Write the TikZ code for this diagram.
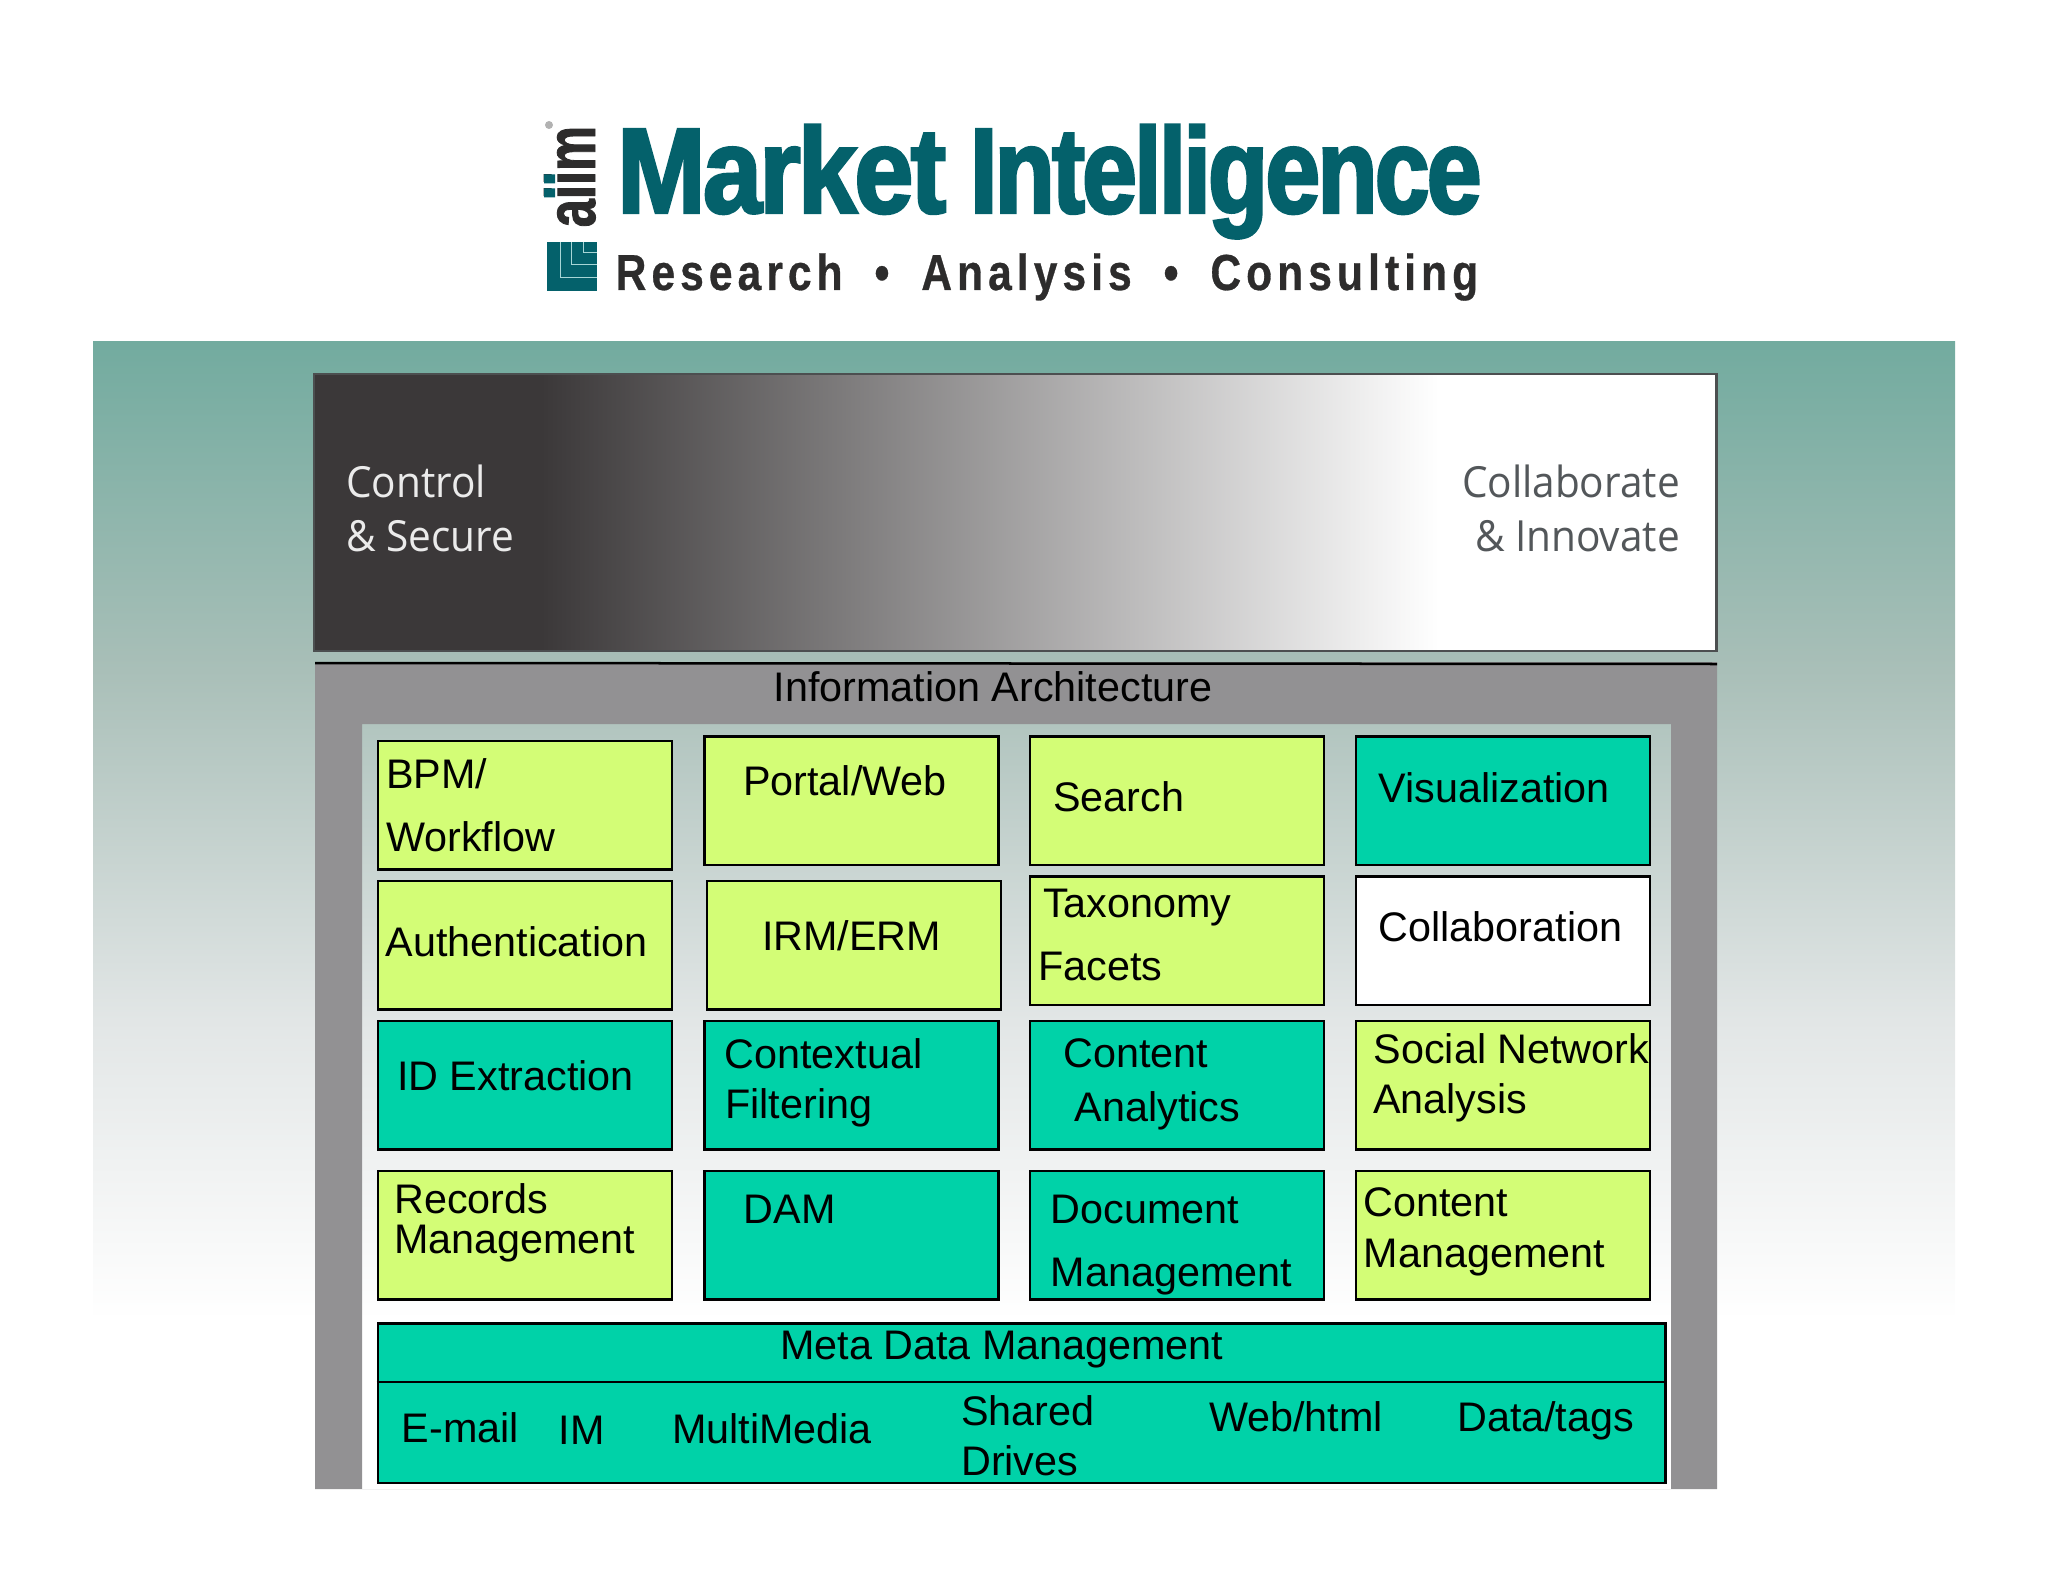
\documentclass[tikz,border=0pt]{standalone}
\usepackage{fontspec}
\setmainfont{Liberation Sans}
\newfontfamily\titlefont[FakeStretch=0.875,FakeBold=2.4,LetterSpace=-2.2]{Liberation Sans Bold}
\newfontfamily\titlenarrow[FakeStretch=0.81,FakeBold=2.4,LetterSpace=-2.2]{Liberation Sans Bold}
\newfontfamily\tagfont[FakeStretch=0.84,FakeBold=0.6,LetterSpace=10]{Liberation Sans Bold}
\newfontfamily\markfont[FakeStretch=0.72,FakeBold=1.2]{Liberation Sans Bold}
\newfontfamily\bandfont[FakeStretch=0.945]{Open Sans}
\usetikzlibrary{positioning}
\definecolor{seatop}{HTML}{72AB9F}
\definecolor{seaone}{HTML}{A9BFB8}
\definecolor{seatwo}{HTML}{E2E6E6}
\definecolor{bandink}{HTML}{3B3839}
\definecolor{bandline}{HTML}{4C4F50}
\definecolor{bandgrey}{HTML}{53575A}
\definecolor{panelgrey}{HTML}{929193}
\definecolor{lime}{HTML}{D3FD76}
\definecolor{mint}{HTML}{00D2A8}
\definecolor{petrol}{HTML}{04616B}
\definecolor{petrolpale}{HTML}{A8D6D6}
\definecolor{coal}{HTML}{2D2C2C}
\pgfdeclareverticalshading{seafade}{100bp}{color(0bp)=(white); color(25bp)=(white); color(40.3bp)=(seatwo); color(58.2bp)=(seaone); color(75bp)=(seatop); color(100bp)=(seatop)}
\pgfdeclarehorizontalshading{bandfade}{100bp}{color(0bp)=(bandink); color(33.1bp)=(bandink); color(65.1bp)=(white); color(100bp)=(white)}
\tikzset{
  cell/.style={draw=black, line width=0.25mm, minimum width=2.94cm, minimum height=1.285cm, inner sep=0pt, anchor=north west},
  lab/.style={text=black, inner sep=0pt, anchor=base west, font=\fontsize{11.75pt}{14pt}\selectfont},
  bandl/.style={inner sep=0pt, font=\bandfont\fontsize{12.2pt}{14pt}\selectfont},
  bandr/.style={bandl, text=bandgrey, anchor=base east},
  markline/.style={draw=petrolpale, line width=0.1mm},
}

\begin{document}
\begin{tikzpicture}[x=0.01cm,y=-0.01cm]
  \useasboundingbox (0,0) rectangle (2048,1582);
  \shade[shading=seafade] (93,341) rectangle (1955,1320);
  % logo
  \node[inner sep=0pt,anchor=base west,text=petrol,font=\fontsize{34.5pt}{35pt}\selectfont] (title) at (616.5,212.7) {{\titlefont Market}\hspace{-0.08em} {\titlenarrow Intelligence}};
  \node[inner sep=0pt,anchor=base west,text=coal,font=\tagfont\fontsize{14.4pt}{16pt}\selectfont] (tagline) at (615,290) {Research\hspace{0.63em}•\hspace{0.63em}Analysis\hspace{0.63em}•\hspace{0.63em}Consulting};
  \node[inner sep=0pt,anchor=base west,rotate=90,text=coal,font=\markfont\fontsize{20pt}{20pt}\selectfont] (aiim) at (595,228) {aiim};
  \fill[petrol] (544,174.5) rectangle (555,183.5) (544,188.5) rectangle (555,197.5);
  \fill[gray!60] (549,125) circle (4);
  \fill[petrol] (547,242) rectangle (597,291);
  \draw[markline] (560,242) -- (560,278) -- (597,278);
  \draw[markline] (571,242) -- (571,265) -- (597,265);
  \draw[markline] (583,242) -- (583,253) -- (597,253);
  % band
  \node[shading=bandfade,draw=bandline,line width=0.25mm,minimum width=14.02cm,minimum height=2.77cm,inner sep=0pt,anchor=north west] (band) at (312.5,372.5) {};
  \node[bandl,text=white!92!black,anchor=base west] (ctrlA) at (345.5,497.5) {Control};
  \node[bandl,text=white!92!black,anchor=base west] (ctrlB) at (345.5,551) {\& Secure};
  \node[bandr] (collA) at (1680.5,497.5) {Collaborate};
  \node[bandr] (collB) at (1680.5,551) {\& Innovate};
  % panel
  \fill[panelgrey,even odd rule] (315,662) rectangle (1717,1489) (362,724) rectangle (1671,1489);
  \draw[black,line width=0.25mm] (315,663) -- (1717,664);
  \node[lab] (info) at (773,701.5) {Information Architecture};
  % cells
  \foreach \name/\x/\y/\col in {
    bpm/376.5/739.5/lime, portal/703/735/lime, search/1028.5/735/lime, visual/1354.5/735/mint,
    auth/376.5/879.5/lime, irm/705.5/879.5/lime, taxon/1028.5/875/lime, collab/1354.5/875/white,
    idex/376.5/1019.5/mint, context/703/1019.5/mint, analytic/1028.5/1019.5/mint, social/1354.5/1019.5/lime,
    records/376.5/1169.5/lime, dam/703/1169.5/mint, docu/1028.5/1169.5/mint, content/1354.5/1169.5/lime}
    \node[cell,fill=\col] (\name) at (\x,\y) {};
  \node[cell,fill=mint,minimum width=12.87cm,minimum height=1.595cm] (meta) at (376.5,1322) {};
  \draw[black,line width=0.25mm] (meta.west |- 0,1382) -- (meta.east |- 0,1382);
  % labels
  \foreach \name/\x/\y/\txt in {
    lbpm/385.5/788.5/{BPM/}, lwork/385.5/851.5/Workflow, lportal/742.5/795.5/{Portal/Web},
    lsearch/1052.5/811/Search, lvisual/1378/802/Visualization,
    lauth/385/956/Authentication, lirm/761.5/950.5/{IRM/ERM},
    ltaxon/1042.5/917/Taxonomy, lfacet/1037.5/980/Facets, lcollab/1378/941.5/Collaboration,
    lidex/396.5/1090.5/ID Extraction, lcontext/724/1068/Contextual, lfilter/724.5/1118/Filtering,
    lcont/1063/1067.5/Content, lanaly/1074/1121.5/Analytics,
    lsocial/1373/1063/Social Network, lanalys/1372.5/1113.5/Analysis,
    lrec/393.5/1213/Records, lrecm/393.5/1253/Management, ldam/743/1223.6/DAM,
    ldoc/1050/1223/Document, ldocm/1050/1286/Management,
    lcm/1363/1216.5/Content, lcmm/1363/1267/Management,
    lmeta/779.5/1359.5/Meta Data Management, lmail/401/1442/E-mail, lim/558/1444/IM,
    lmulti/671.5/1443.5/MultiMedia, lshare/960.5/1425/Shared, ldrive/960.5/1475/Drives,
    lweb/1208.5/1431/{Web/html}, ldata/1456.5/1431/{Data/tags}}
    \node[lab] (\name) at (\x,\y) {\txt};
\end{tikzpicture}
\end{document}
